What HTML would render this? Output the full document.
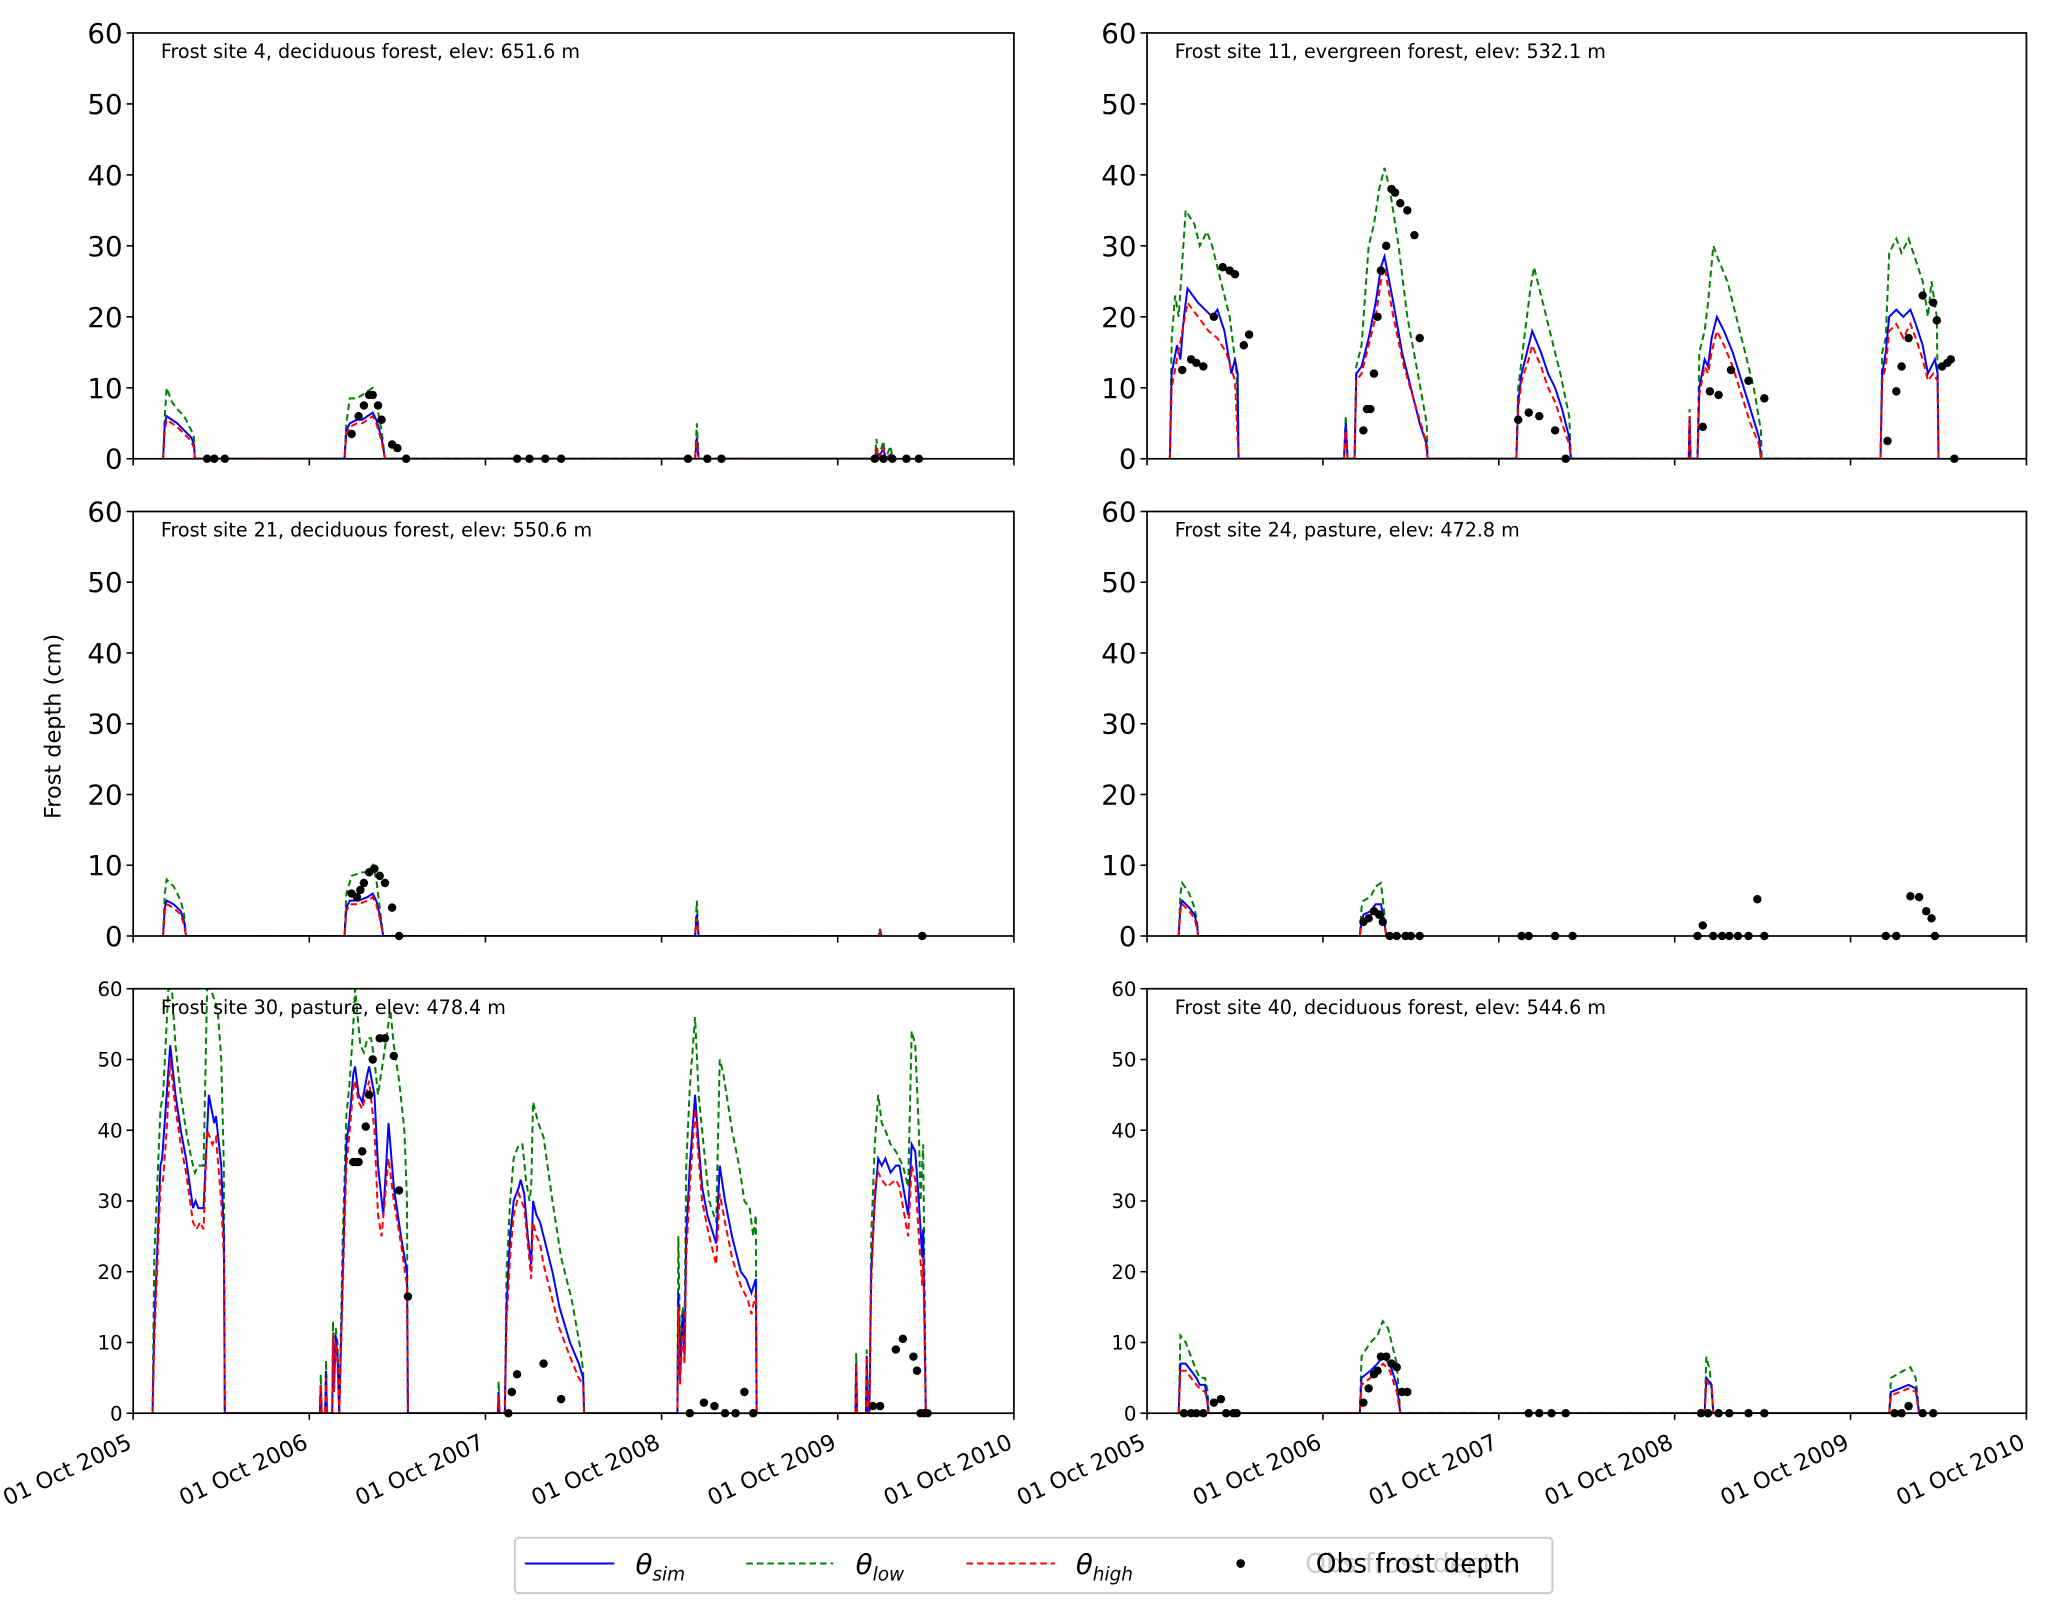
<!DOCTYPE html>
<html><head><meta charset="utf-8"><style>
html,body{margin:0;padding:0;background:#fff}
svg{display:block}
text{font-family:"DejaVu Sans","Liberation Sans",sans-serif;fill:#000}
</style></head><body>
<svg id="fig" width="2066" height="1607" viewBox="0 0 1567 1219" preserveAspectRatio="none" xmlns="http://www.w3.org/2000/svg">
<text x="46" y="551" font-size="17" text-anchor="middle" transform="rotate(-90 46 551)">Frost depth (cm)</text>
<g>
<rect x="390.5" y="1166.5" width="787" height="42" rx="3" fill="#fff" stroke="#ccc" stroke-width="1.5"/>
<line x1="398" y1="1186" x2="466" y2="1186" stroke="#0000ff" stroke-width="1.6"/>
<text x="482" y="1194" font-size="21" font-style="italic">θ<tspan font-size="14" dy="5">sim</tspan></text>
<line x1="566" y1="1186" x2="632" y2="1186" stroke="#008000" stroke-width="1.6" stroke-dasharray="5,3"/>
<text x="649" y="1194" font-size="21" font-style="italic">θ<tspan font-size="14" dy="5">low</tspan></text>
<line x1="733" y1="1186" x2="800" y2="1186" stroke="#ff0000" stroke-width="1.6" stroke-dasharray="5,3"/>
<text x="816" y="1194" font-size="21" font-style="italic">θ<tspan font-size="14" dy="5">high</tspan></text>
<circle cx="941" cy="1186" r="3.3" fill="#000"/>
<text x="990" y="1193" font-size="20" fill="#ccc" style="fill:#ccc">Obs frost depth</text>
<text x="998" y="1193" font-size="20">Obs frost depth</text>
</g>
</svg>
<script>
// ---- data (t = years since 01 Oct 2005, values in cm) ----
const xTickLabels = ["01 Oct 2005","01 Oct 2006","01 Oct 2007","01 Oct 2008","01 Oct 2009","01 Oct 2010"];
const yTicks = [0,10,20,30,40,50,60];
const titles = ["Frost site 4, deciduous forest, elev: 651.6 m","Frost site 11, evergreen forest, elev: 532.1 m","Frost site 21, deciduous forest, elev: 550.6 m","Frost site 24, pasture, elev: 472.8 m","Frost site 30, pasture, elev: 478.4 m","Frost site 40, deciduous forest, elev: 544.6 m"];

const simA=[0.17,0,0.18,5,0.19,6,0.22,5.5,0.25,5,0.29,4,0.33,3,0.345,2,0.35,0, 1.20,0,1.21,4,1.23,5,1.27,5.5,1.30,5.5,1.33,6,1.36,6.5,1.38,5.5,1.41,3,1.43,0, 3.19,0,3.20,3,3.21,0, 4.21,0,4.22,1.2,4.23,0,4.26,1.5,4.27,0,4.30,0.6,4.31,0];
const lowA=[0.17,0,0.18,6,0.19,10,0.22,8,0.25,7,0.29,6,0.33,4,0.345,3,0.35,0, 1.20,0,1.21,5,1.23,8.5,1.27,8.5,1.30,9,1.33,9.5,1.36,10,1.38,8,1.41,4,1.43,0, 3.19,0,3.20,5,3.21,0, 4.21,0,4.22,2.8,4.23,0,4.26,2.5,4.27,0,4.30,1.8,4.31,0];
const highA=[0.17,0,0.18,4,0.19,5.5,0.22,5,0.25,4.5,0.29,3.5,0.33,2.5,0.345,1.5,0.35,0, 1.20,0,1.21,3.5,1.23,4.5,1.27,5,1.30,5,1.33,5.5,1.36,6,1.38,5,1.41,2.5,1.43,0, 3.19,0,3.20,2.5,3.21,0, 4.21,0,4.22,1.5,4.23,0,4.26,1.5,4.27,0,4.30,0.6,4.31,0];
const obsA=[0.42,0,0.46,0,0.52,0, 1.24,3.5,1.28,6,1.31,7.5,1.34,9,1.36,9,1.39,7.5,1.41,5.5,1.47,2,1.50,1.5,1.55,0, 2.18,0,2.25,0,2.34,0,2.43,0, 3.15,0,3.26,0,3.34,0, 4.21,0,4.26,0,4.31,0,4.39,0,4.46,0];

const simB=[0.13,0,0.14,12,0.17,16,0.19,14,0.21,20,0.23,24,0.29,22,0.33,21,0.37,20,0.40,21,0.44,18,0.48,12,0.50,14,0.515,12,0.52,0, 1.12,0,1.13,5,1.14,0, 1.18,0,1.19,12,1.22,13,1.26,17,1.30,22,1.33,27,1.35,28.5,1.40,22,1.45,15,1.50,10,1.55,5,1.59,2,1.595,0, 2.10,0,2.11,8,2.13,12,2.17,16,2.19,18,2.24,15,2.28,12,2.32,10,2.36,7,2.40,3,2.41,0, 3.08,0,3.085,6,3.09,0, 3.13,0,3.14,10,3.17,14,3.19,13,3.21,17,3.24,20,3.28,18,3.33,15,3.38,11,3.43,7,3.48,3,3.49,0, 4.17,0,4.18,12,4.20,15,4.22,20,4.26,21,4.30,20,4.34,21,4.37,19,4.41,16,4.44,12,4.46,13,4.48,14,4.495,12,4.50,0];
const lowB=[0.13,0,0.14,17,0.16,23,0.18,20,0.22,35,0.27,33,0.30,30,0.34,32,0.37,30,0.42,25,0.47,20,0.51,12,0.52,0, 1.12,0,1.13,6,1.14,0, 1.18,0,1.19,13,1.22,16,1.26,30,1.29,33,1.32,38,1.35,41,1.38,38,1.43,30,1.48,20,1.54,12,1.59,5,1.595,0, 2.10,0,2.11,10,2.15,18,2.18,24,2.20,27,2.25,22,2.30,17,2.35,12,2.40,6,2.41,0, 3.08,0,3.085,7,3.09,0, 3.13,0,3.14,15,3.17,18,3.19,22,3.22,30,3.25,28,3.30,25,3.35,20,3.40,15,3.45,10,3.49,4,3.495,0, 4.17,0,4.18,15,4.20,17,4.22,29,4.26,31,4.29,29,4.33,31,4.37,28,4.41,25,4.44,20,4.46,25,4.49,20,4.50,0];
const highB=[0.13,0,0.14,10,0.17,14,0.20,18,0.23,22,0.29,20,0.35,18,0.40,17,0.45,15,0.50,11,0.52,0, 1.12,0,1.13,4,1.14,0, 1.18,0,1.19,11,1.22,12,1.26,16,1.30,20,1.33,25,1.35,27,1.40,20,1.46,13,1.52,8,1.58,3,1.595,0, 2.10,0,2.11,7,2.13,11,2.17,14,2.19,16,2.24,13,2.28,10,2.32,8,2.36,5,2.40,2,2.41,0, 3.08,0,3.085,6,3.09,0, 3.13,0,3.14,9,3.17,13,3.19,12,3.21,15,3.24,18,3.28,16,3.33,13,3.38,9,3.43,5,3.48,2,3.49,0, 4.17,0,4.18,11,4.20,13,4.22,18,4.26,19,4.30,17,4.34,19,4.37,17,4.41,14,4.44,11,4.47,12,4.495,11,4.50,0];
const obsB=[0.20,12.5,0.25,14,0.28,13.5,0.32,13,0.38,20,0.43,27,0.47,26.5,0.50,26,0.55,16,0.58,17.5, 1.23,4,1.25,7,1.27,7,1.29,12,1.31,20,1.33,26.5,1.36,30,1.39,38,1.41,37.5,1.44,36,1.48,35,1.52,31.5,1.55,17, 2.11,5.5,2.17,6.5,2.23,6,2.32,4,2.38,0, 3.16,4.5,3.20,9.5,3.25,9,3.32,12.5,3.42,11,3.51,8.5, 4.21,2.5,4.26,9.5,4.29,13,4.33,17,4.41,23,4.47,22,4.49,19.5,4.52,13,4.55,13.5,4.57,14,4.59,0];

const simC=[0.17,0,0.18,4,0.19,5,0.23,4.5,0.27,3.5,0.29,2,0.30,0, 1.20,0,1.21,4,1.23,5,1.28,5,1.33,5.5,1.36,6,1.38,5,1.40,3,1.42,0, 3.19,0,3.20,3,3.21,0, 4.23,0,4.24,0.6,4.25,0];
const lowC=[0.17,0,0.18,6,0.19,8,0.23,7,0.27,5,0.29,3,0.30,0, 1.20,0,1.21,6,1.24,8.5,1.30,9,1.33,9,1.36,10,1.38,8,1.40,4,1.42,0, 3.19,0,3.20,5,3.21,0, 4.23,0,4.24,1,4.25,0];
const highC=[0.17,0,0.18,3.5,0.19,4.5,0.23,4,0.27,3,0.29,1.5,0.30,0, 1.20,0,1.21,3.5,1.23,4.5,1.28,4.5,1.33,5,1.36,5.5,1.38,4.5,1.40,2.5,1.42,0, 3.19,0,3.20,2.5,3.21,0, 4.23,0,4.24,0.5,4.25,0];
const obsC=[1.24,6,1.27,5.5,1.29,6.5,1.31,7.5,1.34,9,1.37,9.5,1.40,8.5,1.43,7.5,1.47,4,1.51,0, 4.48,0];

const simD=[0.18,0,0.19,4,0.20,5,0.24,4,0.27,3,0.285,1.5,0.29,0, 1.21,0,1.22,2,1.23,3,1.27,3.5,1.30,4.5,1.33,4.5,1.35,2,1.36,0];
const lowD=[0.18,0,0.19,6,0.20,7.5,0.24,6,0.27,4,0.285,2,0.29,0, 1.21,0,1.22,4,1.23,5,1.27,5.5,1.30,7,1.33,7.5,1.35,3,1.36,0];
const highD=[0.18,0,0.19,3.5,0.20,4.5,0.24,3.5,0.27,2.5,0.285,1,0.29,0, 1.21,0,1.22,2,1.23,2.5,1.27,3,1.30,3.5,1.33,3.5,1.35,1.5,1.36,0];
const obsD=[1.23,2,1.26,2.5,1.29,3.5,1.32,3,1.34,2,1.38,0,1.42,0,1.47,0,1.50,0,1.55,0, 2.13,0,2.17,0,2.32,0,2.42,0, 3.13,0,3.16,1.5,3.22,0,3.27,0,3.31,0,3.36,0,3.42,0,3.47,5.2,3.51,0, 4.20,0,4.26,0,4.34,5.6,4.39,5.5,4.43,3.5,4.46,2.5,4.48,0];

const simE=[0.11,0,0.12,12,0.155,35,0.165,36,0.19,45,0.21,52,0.24,45,0.27,40,0.30,36,0.34,29,0.355,30,0.37,29,0.40,29,0.43,45,0.46,41,0.47,42,0.50,35,0.515,25,0.52,0, 1.06,0,1.065,4,1.07,0, 1.09,0,1.095,6,1.10,0, 1.13,0,1.135,10,1.14,3,1.15,11,1.16,8,1.17,0, 1.19,20,1.21,38,1.23,42,1.25,48,1.26,49,1.28,45,1.30,44,1.33,48,1.34,49,1.37,45,1.39,35,1.42,28,1.45,41,1.48,32,1.52,25,1.555,20,1.56,0, 2.07,0,2.075,3,2.08,0, 2.11,0,2.12,15,2.14,25,2.16,30,2.19,32,2.20,33,2.22,31,2.24,25,2.26,21,2.27,30,2.29,28,2.31,27,2.33,25,2.38,20,2.42,15,2.48,10,2.53,7,2.555,5,2.56,0, 3.09,0,3.095,17,3.105,5,3.12,14,3.13,8,3.14,25,3.16,35,3.19,45,3.21,38,3.23,32,3.26,28,3.31,24,3.33,35,3.36,30,3.40,25,3.45,20,3.48,19,3.51,17,3.535,19,3.54,0, 4.10,0,4.105,7,4.11,0, 4.16,0,4.165,8,4.17,0, 4.18,0,4.19,20,4.21,30,4.23,36,4.25,35,4.27,36,4.30,34,4.33,35,4.35,35,4.40,28,4.42,38,4.44,37,4.46,30,4.48,22,4.485,26,4.50,0];
const lowE=[0.11,0,0.12,22,0.155,43,0.17,45,0.19,55,0.20,60,0.22,60,0.24,52,0.27,45,0.30,40,0.33,36,0.35,34,0.37,35,0.40,35,0.42,60,0.44,60,0.48,57,0.50,50,0.515,35,0.52,0, 1.06,0,1.065,5.5,1.07,0, 1.09,0,1.095,7.5,1.10,0, 1.13,0,1.135,13,1.14,5,1.15,12,1.16,10,1.17,0, 1.19,25,1.21,42,1.23,47,1.25,55,1.26,60,1.29,52,1.31,51,1.33,53,1.35,53,1.37,50,1.39,45,1.42,50,1.46,57,1.48,52,1.51,47,1.54,40,1.555,30,1.56,0, 2.07,0,2.075,4.5,2.08,0, 2.11,0,2.12,20,2.14,30,2.16,36,2.19,38,2.21,38,2.23,33,2.25,30,2.26,32,2.27,44,2.30,41,2.33,39,2.38,30,2.43,22,2.49,16,2.54,9,2.555,6,2.56,0, 3.09,0,3.095,25,3.105,10,3.12,15,3.13,12,3.14,35,3.16,46,3.19,56,3.21,45,3.23,40,3.27,30,3.31,27,3.33,50,3.35,48,3.40,40,3.44,35,3.47,30,3.50,29,3.52,25,3.535,28,3.54,0, 4.10,0,4.105,8.5,4.11,0, 4.16,0,4.165,9,4.17,0, 4.18,0,4.19,25,4.21,38,4.23,45,4.25,41,4.27,40,4.30,38,4.33,37,4.37,35,4.40,32,4.42,54,4.44,52,4.46,40,4.47,30,4.485,38,4.50,0];
const highE=[0.11,0,0.12,10,0.155,32,0.17,33,0.19,40,0.21,50,0.24,43,0.27,38,0.30,34,0.34,27,0.36,26,0.38,27,0.40,26,0.42,40,0.45,38,0.47,39,0.50,30,0.515,22,0.52,0, 1.06,0,1.065,4,1.07,0, 1.09,0,1.095,5,1.10,0, 1.13,0,1.135,11,1.14,3,1.15,10,1.16,7,1.17,0, 1.19,18,1.21,35,1.23,40,1.25,46,1.26,47,1.28,44,1.30,43,1.33,46,1.34,47,1.37,40,1.39,28,1.41,25,1.45,36,1.48,30,1.52,24,1.555,18,1.56,0, 2.07,0,2.075,2.5,2.08,0, 2.11,0,2.12,13,2.14,22,2.16,28,2.19,31,2.22,29,2.24,24,2.26,19,2.27,27,2.29,25,2.31,24,2.33,21,2.38,16,2.42,12,2.48,8,2.53,5,2.555,4,2.56,0, 3.09,0,3.095,15,3.105,4,3.12,12,3.13,7,3.14,22,3.16,32,3.19,43,3.21,36,3.23,30,3.27,25,3.31,21,3.33,31,3.36,27,3.40,22,3.45,18,3.49,16,3.51,14,3.535,17,3.54,0, 4.10,0,4.105,7,4.11,0, 4.16,0,4.165,8,4.17,0, 4.18,0,4.19,18,4.21,32,4.23,34,4.25,33,4.28,32,4.33,33,4.35,32,4.40,25,4.42,35,4.44,33,4.46,25,4.48,18,4.485,22,4.50,0];
const obsE=[1.25,35.5,1.27,35.5,1.28,35.5,1.30,37,1.32,40.5,1.34,45,1.36,50,1.40,53,1.43,53,1.48,50.5,1.51,31.5,1.56,16.5, 2.13,0,2.15,3,2.18,5.5,2.33,7,2.43,2, 3.16,0,3.24,1.5,3.30,1,3.36,0,3.42,0,3.47,3,3.52,0, 4.20,1,4.24,1,4.33,9,4.37,10.5,4.43,8,4.45,6,4.47,0,4.49,0,4.51,0];

const simF=[0.18,0,0.19,7,0.22,7,0.25,6,0.28,5,0.30,4,0.33,4,0.34,2,0.35,0, 1.21,0,1.22,5,1.27,6,1.31,7,1.34,8,1.38,7,1.42,4,1.44,0, 3.17,0,3.18,5,3.21,4,3.22,0, 4.22,0,4.23,3,4.28,3.5,4.33,4,4.37,3.5,4.39,0];
const lowF=[0.18,0,0.19,11,0.22,10,0.25,8,0.28,6,0.30,5,0.33,5,0.345,3,0.35,0, 1.21,0,1.22,8,1.27,10,1.31,11,1.34,13,1.37,12,1.42,7,1.44,0, 3.17,0,3.18,8,3.20,6,3.22,0, 4.22,0,4.23,5,4.30,6,4.34,6.5,4.37,5,4.39,0];
const highF=[0.18,0,0.19,6,0.22,6,0.25,5,0.28,4,0.30,3.5,0.33,3,0.345,1.5,0.35,0, 1.21,0,1.22,4,1.27,5,1.31,6,1.34,7,1.38,6,1.42,3,1.44,0, 3.17,0,3.18,4.5,3.21,3.5,3.22,0, 4.22,0,4.23,2.5,4.28,3,4.33,3.5,4.37,3,4.39,0];
const obsF=[0.21,0,0.25,0,0.28,0,0.32,0,0.38,1.5,0.42,2,0.45,0,0.49,0,0.51,0, 1.23,1.5,1.26,3.5,1.29,5.5,1.31,6,1.33,8,1.36,8,1.39,7,1.42,6.5,1.45,3,1.48,3, 2.17,0,2.23,0,2.30,0,2.38,0, 3.15,0,3.19,0,3.25,0,3.31,0,3.42,0,3.51,0, 4.25,0,4.29,0,4.33,1,4.41,0,4.47,0];

const panels=[
 {id:"site-4",x0:101,x1:769,y0:25,y1:348,big:true,sim:simA,low:lowA,high:highA,obs:obsA},
 {id:"site-11",x0:870,x1:1537,y0:25,y1:348,big:true,sim:simB,low:lowB,high:highB,obs:obsB},
 {id:"site-21",x0:101,x1:769,y0:388,y1:710,big:true,sim:simC,low:lowC,high:highC,obs:obsC},
 {id:"site-24",x0:870,x1:1537,y0:388,y1:710,big:true,sim:simD,low:lowD,high:highD,obs:obsD},
 {id:"site-30",x0:101,x1:769,y0:750,y1:1072,big:false,xl:true,sim:simE,low:lowE,high:highE,obs:obsE},
 {id:"site-40",x0:870,x1:1537,y0:750,y1:1072,big:false,xl:true,sim:simF,low:lowF,high:highF,obs:obsF}
];
const NS="http://www.w3.org/2000/svg";
const fig=document.getElementById('fig');
function mk(tag,attrs,parent){const e=document.createElementNS(NS,tag);for(const k in attrs)e.setAttribute(k,attrs[k]);(parent||fig).appendChild(e);return e;}
panels.forEach((p,i)=>{
  const g=mk('g',{});
  
  
  const sx=t=>p.x0+(p.x1-p.x0)*t/5;
  const sy=v=>p.y1-(p.y1-p.y0)*Math.min(v,60)/60;
  const cp=mk('clipPath',{id:'cp'+i},g);
  mk('rect',{x:p.x0,y:p.y0,width:p.x1-p.x0,height:p.y1-p.y0},cp);
  const series=[[p.low,'#008000','5,3','low-line'],[p.sim,'#0000ff',null,'sim-line'],[p.high,'#ff0000','5,3','high-line']];
  series.forEach(([arr,col,dash,nm])=>{
    let d='';
    for(let k=0;k<arr.length;k+=2)d+=(k?'L':'M')+sx(arr[k]).toFixed(1)+','+sy(arr[k+1]).toFixed(1);
    const a={d:d,fill:'none',stroke:col,'stroke-width':1.5,'clip-path':'url(#cp'+i+')'};
    if(dash)a['stroke-dasharray']=dash;
    const pe=mk('path',a,g);
    
    
  });
  for(let k=0;k<p.obs.length;k+=2){
    const c=mk('circle',{cx:sx(p.obs[k]).toFixed(1),cy:sy(p.obs[k+1]).toFixed(1),r:3.2,fill:'#000'},g);
    
    
  }
  const fr=mk('rect',{x:p.x0,y:p.y0,width:p.x1-p.x0,height:p.y1-p.y0,fill:'none',stroke:'#000','stroke-width':1.3},g);
  
  
  const fs=p.big?21:15;
  yTicks.forEach(v=>{
    mk('line',{x1:p.x0-5,x2:p.x0,y1:sy(v),y2:sy(v),stroke:'#000','stroke-width':1.2},g);
    const t=mk('text',{x:p.x0-8,y:sy(v)+fs*0.36,'font-size':fs,'text-anchor':'end'},g);
    t.textContent=v;
    
    
  });
  xTickLabels.forEach((lab,j)=>{
    const x=sx(j);
    mk('line',{x1:x,x2:x,y1:p.y1,y2:p.y1+5,stroke:'#000','stroke-width':1.2},g);
    if(p.xl){
      const t=mk('text',{x:x,y:p.y1+26,'font-size':17,'text-anchor':'end',transform:'rotate(-25 '+x+' '+(p.y1+26)+')'},g);
      t.textContent=lab;
      
      
    }
  });
  const tt=mk('text',{x:p.x0+21,y:p.y0+19,'font-size':14.5},g);
  tt.textContent=titles[i];
  
  
});
</script>
</body></html>
